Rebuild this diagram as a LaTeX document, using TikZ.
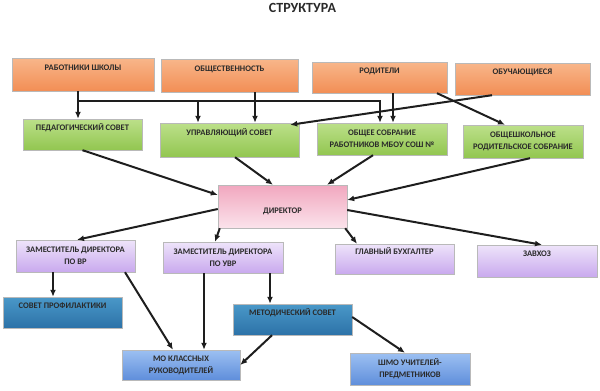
\documentclass[tikz,border=0pt]{standalone}
\usepackage{fontspec}
\setmainfont{Carlito}
\usetikzlibrary{arrows.meta,shadows}

\definecolor{orangeTop}{HTML}{F8B68A}
\definecolor{orangeBot}{HTML}{F28E55}
\definecolor{greenTop}{HTML}{BCE08A}
\definecolor{greenBot}{HTML}{92C650}
\definecolor{pinkTop}{HTML}{F1A7BF}
\definecolor{pinkBot}{HTML}{FBE3EB}
\definecolor{lilacTop}{HTML}{EEE4FA}
\definecolor{lilacBot}{HTML}{C9A9EE}
\definecolor{steelTop}{HTML}{4A98C8}
\definecolor{steelBot}{HTML}{2C72A8}
\definecolor{skyTop}{HTML}{9CC0F2}
\definecolor{skyBot}{HTML}{5F8EDB}
\definecolor{inkText}{HTML}{2A2A2A}
\definecolor{inkLine}{HTML}{1E1E1E}

\begin{document}
\begin{tikzpicture}[
  x=1pt,y=-1pt,
  font=\fontsize{8.5}{12}\selectfont\bfseries,
  box/.style={draw=gray!55,thin,align=center,text=inkText,inner sep=1pt,
    drop shadow={shadow xshift=1.2pt,shadow yshift=-1.2pt,opacity=0.35}},
  upper/.style={text height=6pt,text depth=14.5pt},
  lower/.style={text height=20pt,text depth=5.6pt},
  orangebox/.style={box,upper,top color=orangeTop,bottom color=orangeBot},
  greenbox/.style={box,top color=greenTop,bottom color=greenBot},
  pinkbox/.style={box,top color=pinkTop,bottom color=pinkBot},
  lilacbox/.style={box,top color=lilacTop,bottom color=lilacBot},
  steelbox/.style={box,upper,top color=steelTop,bottom color=steelBot},
  skybox/.style={box,top color=skyTop,bottom color=skyBot},
  arrow/.style={-{Latex[length=7pt,width=6pt]},line width=2pt,draw=inkLine}
]
\useasboundingbox (0,0) rectangle (600,391);
\node[font=\fontsize{14}{16}\selectfont\bfseries,text=inkText] (title) at (302.5,8) {СТРУКТУРА};

% top row
\node[orangebox,minimum width=142pt,minimum height=33pt] (rab) at (83,74.5) {РАБОТНИКИ ШКОЛЫ};
\node[orangebox,minimum width=137pt,minimum height=33pt] (obsh) at (229.5,75.5) {ОБЩЕСТВЕННОСТЬ};
\node[orangebox,minimum width=135pt,minimum height=31pt] (rod) at (379.5,77.5) {РОДИТЕЛИ};
\node[orangebox,minimum width=135pt,minimum height=32pt] (obuch) at (522.5,79) {ОБУЧАЮЩИЕСЯ};

% councils
\node[greenbox,upper,minimum width=119pt,minimum height=31pt] (ped) at (82.5,134.5) {ПЕДАГОГИЧЕСКИЙ СОВЕТ};
\node[greenbox,upper,minimum width=139pt,minimum height=34pt] (upr) at (229.5,140) {УПРАВЛЯЮЩИЙ СОВЕТ};
\node[greenbox,minimum width=130pt,minimum height=32pt] (sobr) at (382,139) {ОБЩЕЕ СОБРАНИЕ\\РАБОТНИКОВ МБОУ СОШ №};
\node[greenbox,minimum width=120pt,minimum height=33pt] (rodsobr) at (523,141.5) {ОБЩЕШКОЛЬНОЕ\\РОДИТЕЛЬСКОЕ СОБРАНИЕ};

\node[pinkbox,lower,minimum width=129pt,minimum height=43pt] (dir) at (282.5,206.5) {ДИРЕКТОР};

% deputies
\node[lilacbox,minimum width=119pt,minimum height=32pt] (zamvr) at (75.5,256) {ЗАМЕСТИТЕЛЬ ДИРЕКТОРА\\ПО ВР};
\node[lilacbox,minimum width=120pt,minimum height=31pt] (zamuvr) at (223,257.5) {ЗАМЕСТИТЕЛЬ ДИРЕКТОРА\\ПО УВР};
\node[lilacbox,upper,minimum width=119pt,minimum height=30pt] (buh) at (394.5,259) {ГЛАВНЫЙ БУХГАЛТЕР};
\node[lilacbox,upper,minimum width=120pt,minimum height=32pt] (zavhoz) at (537,261) {ЗАВХОЗ};

% methodical bodies
\node[steelbox,minimum width=119pt,minimum height=31pt] (prof) at (62.5,312.5) {СОВЕТ ПРОФИЛАКТИКИ};
\node[steelbox,minimum width=119pt,minimum height=31pt] (metod) at (292.5,319.5) {МЕТОДИЧЕСКИЙ СОВЕТ};
\node[skybox,minimum width=118pt,minimum height=30pt] (mokl) at (181,365) {МО КЛАССНЫХ\\РУКОВОДИТЕЛЕЙ};
\node[skybox,minimum width=120pt,minimum height=32pt] (shmo) at (410,369) {ШМО УЧИТЕЛЕЙ-\\ПРЕДМЕТНИКОВ};

% top connectors
\coordinate (bus) at (78,101);
\draw[arrow] ([xshift=-5pt]rab.south) -- ([xshift=-4.5pt]ped.north);
\draw[arrow] (bus) -| ([xshift=-2pt]sobr.north);
\draw[arrow] ([xshift=-31.5pt]upr.north |- bus) -- ([xshift=-31.5pt]upr.north);
\draw[arrow] ([xshift=25.5pt]obsh.south) -- ([xshift=25.5pt]upr.north);
\draw[arrow] ([xshift=13.5pt]rod.south) -- ([xshift=13.5pt]rod.south |- sobr.north);
\draw[arrow] ([xshift=57.5pt]rod.south) -- ([xshift=-18pt]rodsobr.north);
\draw[arrow] ([xshift=-30.5pt]obuch.south) -- ([xshift=-9pt,yshift=-2pt]upr.north east);

% into director
\draw[arrow] (ped.south) -- ([yshift=11.5pt]dir.west);
\draw[arrow] ([xshift=5.5pt]upr.south) -- ([xshift=-9.5pt]dir.north);
\draw[arrow] ([xshift=-9pt]sobr.south) -- ([xshift=44.5pt]dir.north);
\draw[arrow] ([xshift=7pt]rodsobr.south) -- ([yshift=6.5pt]dir.east);

% out of director
\draw[arrow] ([yshift=-2.5pt]dir.west) -- ([xshift=1.5pt]zamvr.north);
\draw[arrow] ([xshift=2pt]dir.south west) -- ([xshift=-8pt]zamuvr.north);
\draw[arrow] ([xshift=-2pt]dir.south east) -- ([xshift=-37.5pt]buh.north);
\draw[arrow] ([yshift=-3.5pt]dir.east) -- ([xshift=5pt]zavhoz.north);

% lower connectors
\draw[arrow] ([xshift=-22.5pt]zamvr.south) -- ([xshift=-22.5pt]zamvr.south |- prof.north);
\draw[arrow] ([xshift=49.5pt]zamvr.south) -- ([xshift=-8pt]mokl.north);
\draw[arrow] ([xshift=-19pt]zamuvr.south) -- ([xshift=-19pt]zamuvr.south |- mokl.north);
\draw[arrow] ([xshift=47pt]zamuvr.south) -- ([xshift=47pt]zamuvr.south |- metod.north);
\draw[arrow] ([xshift=-20.5pt]metod.south) -- (mokl.east);
\draw[arrow] ([yshift=2.5pt]metod.east) -- ([xshift=-5pt]shmo.north);
\end{tikzpicture}
\end{document}
